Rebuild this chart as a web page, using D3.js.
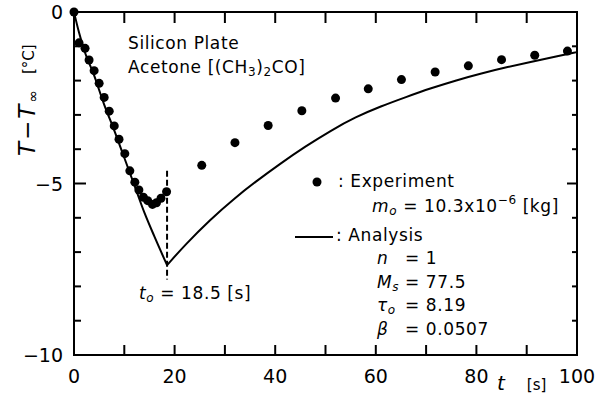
<!DOCTYPE html>
<html lang="en">
<head>
<meta charset="UTF-8"/>
<title>Silicon plate cooling</title>
<script src="https://d3js.org/d3.v7.min.js"></script>
<style>
  body { margin: 0; background: #fff; }
  text { font-family: "DejaVu Sans", sans-serif; fill: #000; }
</style>
</head>
<body>
<script>
var w = 607;
var h = 400;

// experiment (dots)
var expTime = [0, 1, 2.2, 3, 4, 5, 6, 7, 8, 8.95, 10.1, 11.1, 12.1, 12.9, 13.8, 14.65, 15.6, 16.4, 17.3, 18.4,
               25.4, 32, 38.6, 45.3, 52, 58.5, 65.1, 71.8, 78.4, 85, 91.6, 98.1];
var expTemp = [0, -0.9, -1.06, -1.4, -1.71, -2.08, -2.49, -2.89, -3.32, -3.71, -4.13, -4.63, -4.96, -5.19, -5.4, -5.5, -5.61, -5.56, -5.43, -5.24,
               -4.47, -3.81, -3.31, -2.88, -2.51, -2.24, -1.97, -1.75, -1.57, -1.39, -1.26, -1.14];

// analysis, cooling part (0 .. t0) and recovery part (t0 .. 100)
var coolTime = [0, 1, 2, 4, 6, 8, 10, 12, 14, 16, 18.5];
var coolTemp = [0, -0.6, -1.1, -1.85, -2.7, -3.45, -4.25, -5.05, -5.85, -6.55, -7.38];
var recTime = [18.5, 22, 27, 32, 36, 41, 46, 51, 56, 61, 66, 71, 76, 81, 86, 91, 96, 100];
var recTemp = [-7.38, -6.8, -6.06, -5.42, -4.96, -4.42, -3.92, -3.46, -3.06, -2.75, -2.48, -2.22, -1.99, -1.79, -1.61, -1.45, -1.29, -1.17];

var t0 = 18.5;
var xTicks = [0, 20, 40, 60, 80, 100];
var yTicks = [0, -5, -10];

var x = d3.scaleLinear().domain([0, 100]).range([74, 577]);
var y = d3.scaleLinear().domain([-10, 0]).range([355, 12]);

var svg = d3.select("body").append("svg")
    .attr("width", w)
    .attr("height", h);

// frame
svg.append("rect")
    .attr("x", x(0)).attr("y", y(0))
    .attr("width", x(100) - x(0)).attr("height", y(-10) - y(0))
    .attr("fill", "none").attr("stroke", "#000").attr("stroke-width", 2);

// inward ticks on all sides
var xt = d3.range(10, 100, 10);
svg.selectAll(".xb").data(xt).enter().append("line")
    .attr("x1", function(d) { return x(d); }).attr("x2", function(d) { return x(d); })
    .attr("y1", y(-10)).attr("y2", y(-10) - 10)
    .attr("stroke", "#000").attr("stroke-width", 2);
svg.selectAll(".xt").data(xt).enter().append("line")
    .attr("x1", function(d) { return x(d); }).attr("x2", function(d) { return x(d); })
    .attr("y1", y(0)).attr("y2", y(0) + 11)
    .attr("stroke", "#000").attr("stroke-width", 2);
var yt = d3.range(-9, 0, 1);
svg.selectAll(".yl").data(yt).enter().append("line")
    .attr("y1", function(d) { return y(d); }).attr("y2", function(d) { return y(d); })
    .attr("x1", x(0)).attr("x2", function(d) { return x(0) + (d == -5 ? 12 : 7); })
    .attr("stroke", "#000").attr("stroke-width", 2);
svg.selectAll(".yr").data(yt).enter().append("line")
    .attr("y1", function(d) { return y(d); }).attr("y2", function(d) { return y(d); })
    .attr("x1", x(100)).attr("x2", function(d) { return x(100) - (d == -5 ? 10 : 5); })
    .attr("stroke", "#000").attr("stroke-width", 2);

// tick labels
svg.selectAll(".xl").data(xTicks).enter().append("text")
    .attr("x", function(d) { return x(d); })
    .attr("y", 383)
    .attr("text-anchor", "middle")
    .style("font-size", "19px")
    .text(function(d) { return d; });
svg.selectAll(".ylab").data(yTicks).enter().append("text")
    .attr("x", 63)
    .attr("y", function(d) { return y(d) + 7; })
    .attr("text-anchor", "end")
    .style("font-size", "19px")
    .text(function(d) { return d < 0 ? "\u2212" + (-d) : d; });

// axis titles
var xl = svg.append("text").attr("x", 497).attr("y", 390).style("font-size", "20px");
xl.append("tspan").style("font-style", "italic").text("t");
xl.append("tspan").attr("dx", 22).style("font-size", "15px").text("[s]");

var yl = svg.append("text")
    .attr("transform", "translate(35,156) rotate(-90)")
    .style("font-size", "23px").style("letter-spacing", "2px");
yl.append("tspan").style("font-style", "italic").text("T");
yl.append("tspan").text("\u2212");
yl.append("tspan").style("font-style", "italic").text("T");
yl.append("tspan").attr("dy", 3).style("font-size", "15px").text("\u221e");
svg.append("text")
    .attr("transform", "translate(34,74) rotate(-90)")
    .style("font-size", "15px")
    .text("[\u00b0C]");

// analysis curve
var coolLine = d3.line()
    .x(function(d) { return x(d[0]); })
    .y(function(d) { return y(d[1]); })
    .curve(d3.curveMonotoneX);
var recLine = d3.line()
    .x(function(d) { return x(d[0]); })
    .y(function(d) { return y(d[1]); })
    .curve(d3.curveBasis);
svg.append("path")
    .datum(d3.zip(coolTime, coolTemp))
    .attr("d", coolLine)
    .attr("fill", "none").attr("stroke", "#000").attr("stroke-width", 2);
svg.append("path")
    .datum(d3.zip(recTime, recTemp))
    .attr("d", recLine)
    .attr("fill", "none").attr("stroke", "#000").attr("stroke-width", 2);

// t0 marker
svg.append("line")
    .attr("x1", x(t0)).attr("x2", x(t0))
    .attr("y1", y(-4.63)).attr("y2", y(-7.8))
    .attr("stroke", "#000").attr("stroke-width", 2)
    .attr("stroke-dasharray", "6,3");

// experiment dots
svg.selectAll(".dot").data(d3.zip(expTime, expTemp)).enter().append("circle")
    .attr("cx", function(d) { return x(d[0]); })
    .attr("cy", function(d) { return y(d[1]); })
    .attr("r", 4.5)
    .attr("fill", "#000");

// annotations
function label(px, py) {
    return svg.append("text").attr("x", px).attr("y", py)
        .style("font-size", "17px").style("letter-spacing", "0.6px");
}
label(128, 49).text("Silicon Plate");
var ac = label(128, 73);
ac.append("tspan").text("Acetone [(CH");
ac.append("tspan").attr("dy", 3).style("font-size", "12px").text("3");
ac.append("tspan").attr("dy", -3).text(")");
ac.append("tspan").attr("dy", 3).style("font-size", "12px").text("2");
ac.append("tspan").attr("dy", -3).text("CO]");

var tl = label(139, 299);
tl.append("tspan").style("font-style", "italic").text("t");
tl.append("tspan").attr("dy", 3).style("font-size", "12px").style("font-style", "italic").text("o");
tl.append("tspan").attr("dy", -3).text(" = 18.5 [s]");

// legend
svg.append("circle").attr("cx", 317).attr("cy", 182).attr("r", 4.5).attr("fill", "#000");
label(338, 187).text(": Experiment");
var m = label(372, 212);
m.append("tspan").style("font-style", "italic").text("m");
m.append("tspan").attr("dy", 3).style("font-size", "12px").style("font-style", "italic").text("o");
m.append("tspan").attr("dy", -3).text(" = 10.3x10");
m.append("tspan").attr("dy", -8).style("font-size", "12px").text("\u22126");
m.append("tspan").attr("dy", 8).text(" [kg]");

svg.append("line").attr("x1", 295).attr("x2", 333).attr("y1", 237).attr("y2", 237)
    .attr("stroke", "#000").attr("stroke-width", 2);
label(336, 241).text(": Analysis");

var params = [["n", "", "1"], ["M", "s", "77.5"], ["\u03c4", "o", "8.19"], ["\u03b2", "", "0.0507"]];
params.forEach(function(p, i) {
    var by = 264 + i * 23.5;
    var s = label(377, by);
    s.append("tspan").style("font-style", "italic").text(p[0]);
    if (p[1]) s.append("tspan").attr("dy", 3).style("font-size", "12px").style("font-style", "italic").text(p[1]);
    label(405, by).text("= " + p[2]);
});
</script>
</body>
</html>
